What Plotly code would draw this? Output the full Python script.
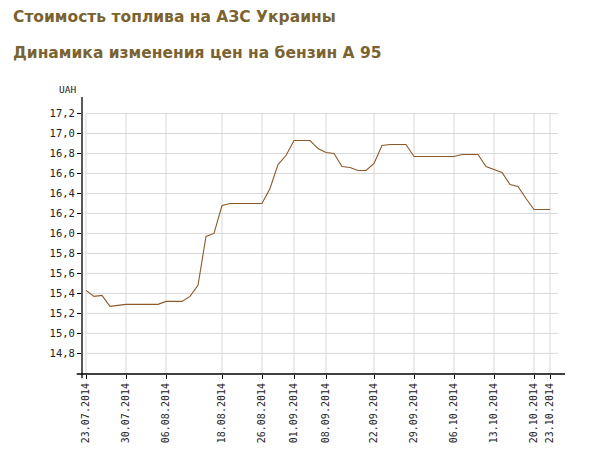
import plotly.graph_objects as go

# price of A-95 (UAH), one value per observation
prices = [15.43, 15.37, 15.38, 15.27, 15.28, 15.29, 15.29, 15.29, 15.29, 15.29,
          15.32, 15.32, 15.32, 15.37, 15.48, 15.97, 16.00, 16.28, 16.30, 16.30,
          16.30, 16.30, 16.30, 16.45, 16.69, 16.78, 16.93, 16.93, 16.93, 16.85,
          16.81, 16.80, 16.67, 16.66, 16.63, 16.63, 16.70, 16.88, 16.89, 16.89,
          16.89, 16.77, 16.77, 16.77, 16.77, 16.77, 16.77, 16.79, 16.79, 16.79,
          16.67, 16.64, 16.61, 16.49, 16.47, 16.35, 16.24, 16.24, 16.24]
obs = list(range(len(prices)))

x_tick_pos = [0, 5, 10, 17, 22, 26, 30, 36, 41, 46, 51, 56, 58]
x_tick_labels = ["23.07.2014", "30.07.2014", "06.08.2014", "18.08.2014", "26.08.2014",
                 "01.09.2014", "08.09.2014", "22.09.2014", "29.09.2014", "06.10.2014",
                 "13.10.2014", "20.10.2014", "23.10.2014"]
y_tick_vals = [14.8, 15.0, 15.2, 15.4, 15.6, 15.8, 16.0, 16.2, 16.4, 16.6, 16.8, 17.0, 17.2]
y_tick_labels = ["14,8", "15,0", "15,2", "15,4", "15,6", "15,8", "16,0", "16,2",
                 "16,4", "16,6", "16,8", "17,0", "17,2"]

title_main = "Стоимость топлива на АЗС Украины"
title_sub = "Динамика изменения цен на бензин А 95"
unit_label = "UAH"

GRID = "#d8d8d8"
TXT = "#7a6330"
MONO = "DejaVu Sans Mono"

fig = go.Figure()
fig.add_trace(go.Scatter(x=obs, y=prices, mode="lines",
                         line=dict(color="#8c5a2a", width=1.1),
                         hoverinfo="skip", showlegend=False))

shapes = []
grid_x_end = x_tick_pos[-1] + 1
for v in y_tick_vals:
    shapes.append(dict(type="line", xref="x", yref="y", x0=x_tick_pos[0], x1=grid_x_end,
                       y0=v, y1=v, line=dict(color=GRID, width=1), layer="below"))
for p in x_tick_pos:
    shapes.append(dict(type="line", xref="x", yref="y", x0=p, x1=p,
                       y0=14.593, y1=y_tick_vals[-1], line=dict(color=GRID, width=1), layer="below"))
# axis lines (crossing at origin)
shapes.append(dict(type="line", xref="paper", yref="paper", x0=-0.011, x1=1, y0=0, y1=0,
                   line=dict(color="black", width=1.3)))
shapes.append(dict(type="line", xref="paper", yref="paper", x0=0, x1=0, y0=-0.015, y1=1,
                   line=dict(color="black", width=1.3)))

fig.update_layout(
    width=587, height=460,
    margin=dict(l=74, r=30, t=89, b=94),
    paper_bgcolor="white", plot_bgcolor="white",
    showlegend=False,
    shapes=shapes,
    xaxis=dict(range=[-0.5, 59.875], showgrid=False, zeroline=False, showline=False,
               tickmode="array", tickvals=x_tick_pos, ticktext=x_tick_labels,
               tickangle=-90, ticks="outside", ticklen=4, tickcolor="black",
               tickfont=dict(family=MONO, size=10, color="#222")),
    yaxis=dict(range=[14.593, 17.366], showgrid=False, zeroline=False, showline=False,
               tickmode="array", tickvals=y_tick_vals, ticktext=y_tick_labels,
               ticks="outside", ticklen=4, tickcolor="black",
               tickfont=dict(family=MONO, size=10.5, color="#222")),
    annotations=[
        dict(text=title_main, xref="paper", yref="paper", x=-0.147, y=1.288,
             xanchor="left", yanchor="middle", showarrow=False,
             font=dict(family="DejaVu Sans", size=15.5, color=TXT, weight="bold")),
        dict(text=title_sub, xref="paper", yref="paper", x=-0.147, y=1.158,
             xanchor="left", yanchor="middle", showarrow=False,
             font=dict(family="DejaVu Sans", size=15.5, color=TXT, weight="bold")),
        dict(text=unit_label, xref="paper", yref="paper", x=-0.029, y=1.028,
             xanchor="center", yanchor="middle", showarrow=False,
             font=dict(family=MONO, size=9.5, color="#222")),
    ],
)

fig.write_html("out.html")
